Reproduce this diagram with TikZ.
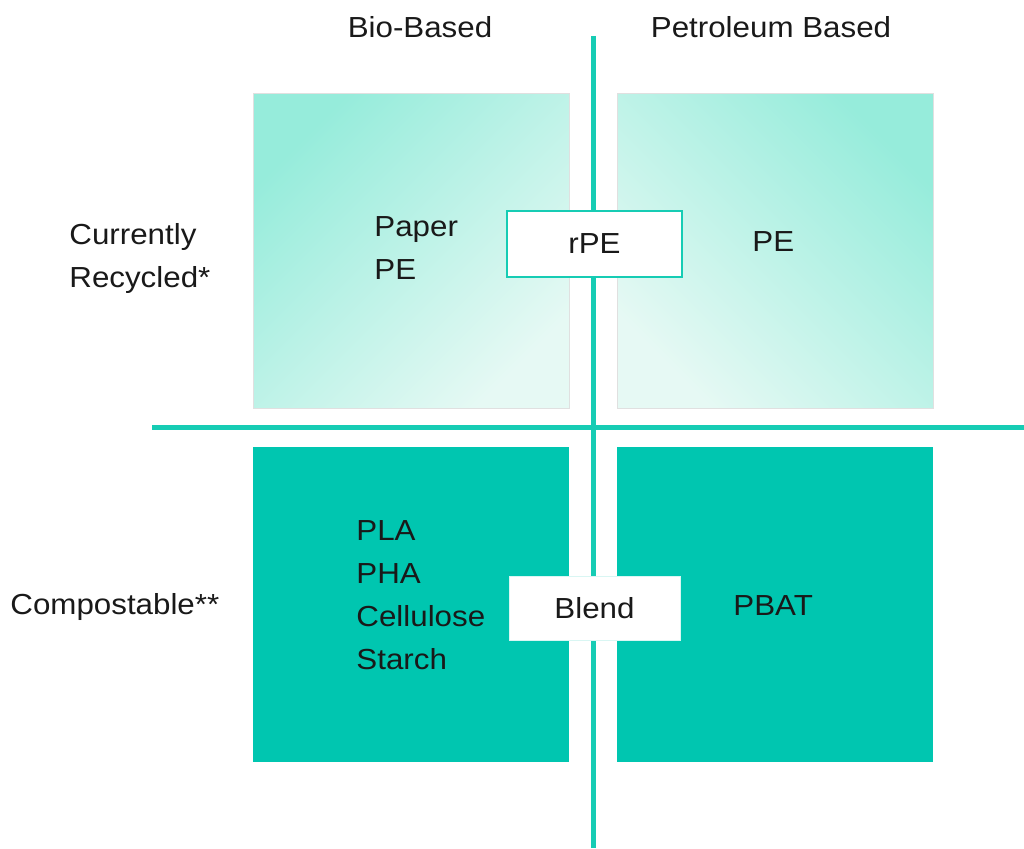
\documentclass[tikz,border=0pt]{standalone}
\usepackage{fontspec}
\setmainfont{Liberation Sans}[FakeStretch=1.08]
\usepackage{tikz}
\usetikzlibrary{positioning}

\definecolor{teal1}{RGB}{0,198,176}
\definecolor{tealline}{RGB}{22,204,180}
\definecolor{mintdark}{RGB}{150,236,219}
\definecolor{mintlight}{RGB}{230,249,244}
\definecolor{textgray}{RGB}{25,25,25}

\begin{document}
\begin{tikzpicture}[x=1pt, y=-1pt, thick,
  quad/.style={minimum width=316pt, minimum height=315pt, inner sep=0pt, anchor=north west},
  soft/.style={quad, draw=black!12, line width=0.8pt, top color=mintdark, bottom color=mintlight},
  solid box/.style={quad, fill=teal1},
  tag box/.style={draw=tealline, fill=white, line width=1.6pt, minimum width=175pt, minimum height=66pt, inner sep=0pt},
  label/.style={font=\fontsize{29}{43}\selectfont, text=textgray, align=left, inner sep=0pt}]

\useasboundingbox (0,0) rectangle (1024,848);

% quadrants
\node[soft, shading angle=45] (bioRec) at (253,93) {};
\node[soft, shading angle=-45] (petRec) at (617,93) {};
\node[solid box] (bioComp) at (253,447) {};
\node[solid box] (petComp) at (617,447) {};

% axes
\coordinate (vTop) at (593,36);
\coordinate (vBot) at (593,848);
\coordinate (hLeft) at (152,427);
\coordinate (hRight) at (1024,427);
\draw[tealline, line width=5pt] (vTop) -- (vBot);
\draw[tealline, line width=5pt] (hLeft) -- (hRight);

% overlap boxes
\node[tag box] (rpe) at (594.5,244) {};
\node[label] at (rpe.center) {rPE};
\node[tag box, draw=white!85!teal1, line width=1pt, minimum width=171pt, minimum height=64pt] (blend) at (594.5,608) {};
\node[label] at (blend.center) {Blend};

% headings
\node[label] (bio) at (420,27) {Bio-Based};
\node[label] (pet) at (771,27) {Petroleum Based};
\node[label, anchor=west] (recyc) at (69,258) {Currently\\Recycled*};
\node[label, anchor=west] (comp) at (10,607) {Compostable**};

% contents
\node[label, anchor=west] (paper) at (374,248) {Paper\\PE};
\node[label, anchor=west] (pe) at (752,242) {PE};
\node[label, anchor=west] (bioList) at (356,595) {PLA\\PHA\\Cellulose\\Starch};
\node[label, anchor=west] (pbat) at (733,606) {PBAT};

\end{tikzpicture}
\end{document}
